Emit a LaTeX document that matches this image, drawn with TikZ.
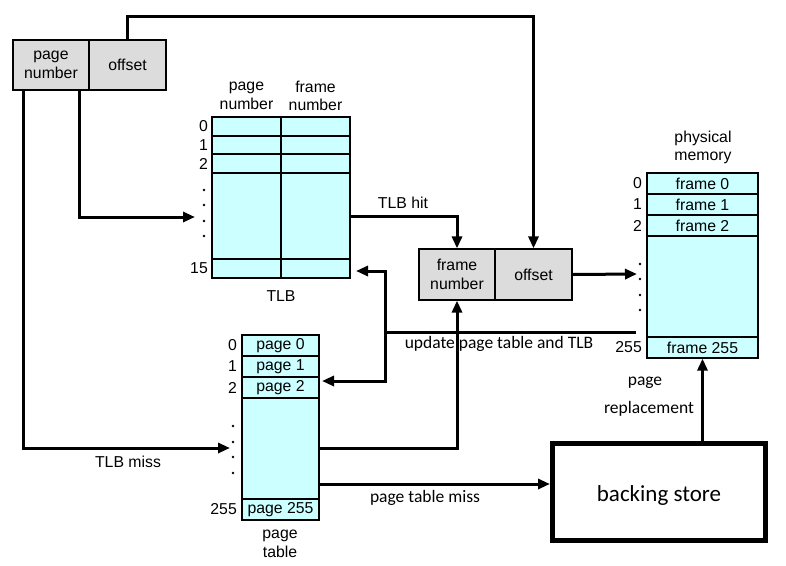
\documentclass[tikz,border=0pt]{standalone}
\usepackage{fontspec}
\setmainfont{Liberation Sans}
\newfontfamily\calib{Carlito}
\usepackage{xcolor}
\usetikzlibrary{arrows.meta,positioning,calc}
\definecolor{memcyan}{HTML}{CCFFFF}
\definecolor{regray}{HTML}{DCDCDC}

\begin{document}
\begin{tikzpicture}[x=1pt, y=-1pt,
	font=\fontsize{15.8}{18.5}\selectfont,
	cell/.style 2 args={draw, fill=memcyan, line width=1.2pt, inner sep=0pt,
		minimum width=#1pt, minimum height=#2pt},
	gbox/.style={draw, fill=regray, line width=1.2pt, inner sep=0pt, align=center,
		minimum height=50pt},
	wire/.style={line width=3pt, -{Triangle[length=12pt,width=10pt]}},
	calfont/.style={font=\calib\fontsize{17.5}{20}\selectfont},
	rowlab/.style={anchor=east, inner sep=1pt}]
	\useasboundingbox (0,0) rectangle (786,565);

	% logical address
	\node[gbox, minimum width=76pt]  (lpage) at (51,65)    {page\\number};
	\node[gbox, minimum width=77pt]  (loff)  at (127.5,65) {offset};

	% TLB
	\node[align=center] (tlbhp) at (246.5,96) {page\\number};
	\node[align=center] (tlbhf) at (315.5,96) {frame\\number};
	\foreach \n/\yc/\h in {0/126.5/19, 1/145/18, 2/163.5/19, m/216/86, 15/268.5/19} {
		\node[cell={69}{\h}] (tlbA\n) at (246.5,\yc) {};
		\node[cell={69}{\h}] (tlbB\n) at (315.5,\yc) {};
	}
	\foreach \n/\yc in {0/126.5, 1/145, 2/163.5, 15/268.5}
		\node[rowlab] (tlbl\n) at (209,\yc) {\n};
	\foreach \yy in {190,205,221,236}
		\fill (204,\yy) circle (1.3pt);
	\node (ltlb) at (281,296) {TLB};

	% frame number and offset
	\node[gbox, minimum width=76pt, minimum height=51pt] (fnum) at (457,274.5)   {frame\\number};
	\node[gbox, minimum width=77pt, minimum height=51pt] (foff) at (533.5,274.5) {offset};

	% physical memory
	\node[align=center] (lpm) at (703,147.5) {physical\\memory};
	\foreach \n/\t/\yc/\h in {0/frame 0/183.5/21, 1/frame 1/204.5/21, 2/frame 2/225.5/21,
		m//286.5/101, 255/frame 255/347.5/21}
		\node[cell={111}{\h}] (pm\n) at (702.5,\yc) {\t};
	\foreach \n/\yc in {0/183.5, 1/204.5, 2/225.5, 255/347.5}
		\node[rowlab] (pml\n) at (643,\yc) {\n};
	\foreach \yy in {264,279,295,310}
		\fill (640,\yy) circle (1.3pt);

	% page table
	\foreach \n/\t/\yc/\h in {0/page 0/345.5/21, 1/page 1/366.5/21, 2/page 2/387.5/21,
		m//448.5/101, 255/page 255/509.5/21}
		\node[cell={77}{\h}] (pt\n) at (280.5,\yc) {\t};
	\foreach \n/\yc in {0/345.5, 1/366.5, 2/387.5, 255/509.5}
		\node[rowlab] (ptl\n) at (238,\yc) {\n};
	\foreach \yy in {426,442,457,473}
		\fill (233,\yy) circle (1.3pt);
	\node[align=center] (lpt) at (280,544) {page\\table};

	% backing store
	\node[draw, line width=5pt, minimum width=213pt, minimum height=97pt,
		text height=19pt, text depth=0pt,
		font=\calib\fontsize{23}{26}\selectfont] (bs) at (659,492) {backing store};

	% connector ends
	\coordinate (tlbin)  at (195,217);
	\coordinate (ptin)   at (230,448);
	\coordinate (pmin)   at (637,274);
	\coordinate (upd)    at (636,332);
	\coordinate (ujoin)  at (385,332);
	\coordinate (tlbup)  at (356,271);
	\coordinate (pt2in)  at (322,381);
	\coordinate (ptmiss) at (319,484);

	% connectors
	\draw[wire] (loff.north) -- ++(0,-23) -| (foff.north);
	\draw[wire] ([xshift=11pt]lpage.south west) |- (ptin);
	\draw[wire] ([xshift=-10pt]lpage.south east) |- (tlbin);
	\draw[wire] (tlbBm.east) -| (fnum.north);
	\draw[wire] (foff.east) -- (pmin);
	\draw[wire, -] (upd) -- (ujoin);
	\draw[wire] (ujoin) |- (tlbup);
	\draw[wire] (ujoin) |- (pt2in);
	\draw[wire] (ptm.east) -| (fnum.south);
	\draw[wire] (ptmiss) -- (ptmiss -| bs.west);
	\draw[wire] (pm255.south |- bs.north) -- (pm255.south);

	% labels
	\node (lhit)  at (403,203) {TLB hit};
	\node (lmiss) at (128,462) {TLB miss};
	\node[calfont] (lupd)  at (499,344) {update page table and TLB};
	\node[calfont] (lptm)  at (425,498) {page table miss};
	\node[calfont] (lrep1) at (645,383) {page};
	\node[calfont] (lrep2) at (649,409) {replacement};
\end{tikzpicture}
\end{document}
